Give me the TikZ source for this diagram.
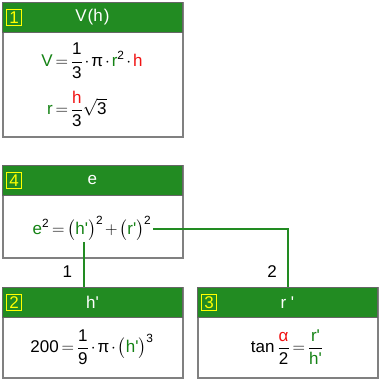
\documentclass[tikz,border=0pt]{standalone}
\usepackage{amsmath}
\usepackage{fontspec}
\setmainfont{Liberation Sans}[Ligatures=TeXOff]
\usetikzlibrary{positioning,calc}
\definecolor{bar}{RGB}{34,139,34}
\definecolor{frm}{RGB}{128,128,128}
\definecolor{vgr}{RGB}{20,130,20}
\definecolor{vrd}{RGB}{240,20,20}
\definecolor{tag}{RGB}{255,255,0}
\newcommand{\gv}[1]{\textcolor{vgr}{\text{#1}}}
\newcommand{\rv}[1]{\textcolor{vrd}{\text{#1}}}
\newcommand{\tx}[1]{\text{#1}}
\thickmuskip=3mu plus 1mu
\medmuskip=2mu plus 1mu

\begin{document}
\begin{tikzpicture}[x=1pt,y=-1pt,font=\fontsize{17}{20}\selectfont,
  frame/.style={draw=frm,line width=1.5pt,minimum width=180pt,
                anchor=north west,inner sep=0pt},
  hdr/.style={fill=bar,draw=black!60,line width=0.8pt,minimum width=180pt,
              minimum height=30pt,anchor=north west,inner sep=0pt,text=white},
  numbox/.style={draw=tag,line width=1pt,text=tag,minimum width=15pt,
                 minimum height=16pt,inner sep=0pt},
  fml/.style={inner sep=0pt},
  link/.style={draw=bar,line width=2pt}]
\useasboundingbox (0,0) rectangle (379,378);

% frames with title bars
\foreach \k/\x/\y/\hgt/\ttl in {1/2/2/134/{V\kern1pt(h\kern1pt)}, 4/2/165/92/e,
                                2/2/287/90/{h'}, 3/197/287/90/{r '}}{
  \node[frame,minimum height=\hgt pt] (f\k) at (\x,\y) {};
  \node[hdr] (h\k) at (\x,\y) {\ttl};
  \node[numbox,right=4pt of h\k.west] (n\k) {\k};
}

% formulas
\node[fml] (m1) at (92,85) {$\begin{aligned}
  \gv{V}&=\dfrac{\tx{1}}{\tx{3}}\cdot\tx{π}\cdot\gv{r}^{\tx{2}}\cdot\rv{h}\\[8pt]
  \gv{r}&=\dfrac{\rv{h}}{\tx{3}}\sqrt{\tx{3}}\end{aligned}$};
\node[fml] (m4) at (92,228)
  {$\gv{e}^{\tx{2}}=\bigl(\gv{h'}\bigr)^{\tx{2}}+\bigl(\gv{r'}\bigr)^{\tx{2}}$};
\node[fml] (m2) at (92,347)
  {$\tx{200}=\dfrac{\tx{1}}{\tx{9}}\cdot\tx{π}\cdot\bigl(\gv{h'}\bigr)^{\tx{3}}$};
\node[fml] (m3) at (287,347)
  {$\tx{tan}\,\dfrac{\rv{α}}{\tx{2}}=\dfrac{\gv{r'}}{\gv{h'}}$};

% links
\coordinate (hp) at (84,242);
\coordinate (rp) at ($(m4.east)+(2,1)$);
\draw[link] (hp) -- (hp |- f2.north)
  node[pos=0.65,left=11pt,inner sep=0pt,text=black] (l1) {1};
\draw[link] (rp) -| (f3.north)
  node[pos=0.87,left=10pt,inner sep=0pt,text=black] (l2) {2};

\end{tikzpicture}
\end{document}
